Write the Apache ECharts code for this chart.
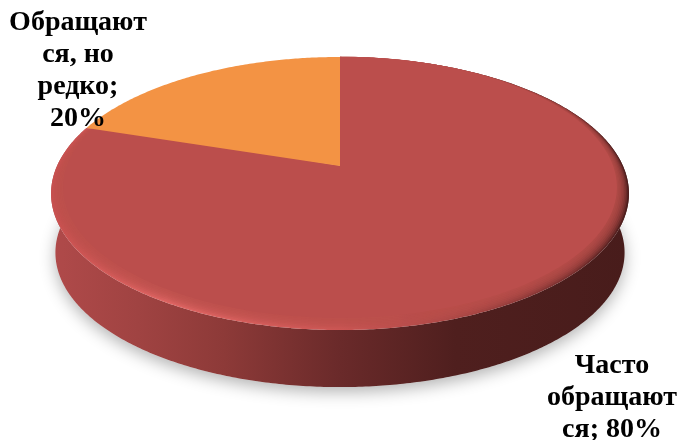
<!DOCTYPE html>
<html>
<head>
<meta charset="utf-8">
<title>Pie</title>
<style>
html, body { margin: 0; padding: 0; background: #fff; }
#chart { width: 679px; height: 440px; }
</style>
<script src="https://cdn.jsdelivr.net/npm/echarts@6/dist/echarts.min.js"></script>
</head>
<body>
<div id="chart"></div>
<script>
var categories = ['Часто\nобращают\nся', 'Обращают\nся, но\nредко'];
var separators = ['; ', ';\n'];
var values = [80, 20];

var total = values.reduce(function (a, b) { return a + b; }, 0);

// perspective of the disc, fitted on the picture
var CX = 340, CY = 166, A = 283, B = 131, K = 0.2015;
var DEPTH = 59.5, FLOOR = 0.985;
var INSET = 0.96, INSET_UP = 4, BEVEL_STEPS = 8;

var topColors = ['#bb4e4c', '#f39344'];
var labelPos = [[612, 398], [78, 71]];

// a = clockwise from 12 o'clock
function project(a, r, dy, s) {
    var u = Math.sin(a) * r, v = Math.cos(a) * r;
    var w = 1 + K * v;
    return [CX + s * A * u / w, CY + dy - s * B * v / w];
}
function arc(a0, a1, r, dy, s) {
    var pts = [], n = Math.ceil((a1 - a0) / 0.01);
    for (var i = 0; i <= n; i++) {
        pts.push(project(a0 + (a1 - a0) * i / n, r, dy, s));
    }
    return pts;
}
function hGradient(stops) {
    return new echarts.graphic.LinearGradient(51, 0, 629, 0, stops, true);
}

var sideFill = hGradient([
    { offset: 0, color: '#b04a4a' },
    { offset: 0.15, color: '#a04342' },
    { offset: 0.3, color: '#8d3a38' },
    { offset: 0.5, color: '#6a2a2a' },
    { offset: 0.7, color: '#4f1f1e' },
    { offset: 1, color: '#481c1b' }
]);
var bevelFill = hGradient([
    { offset: 0, color: '#c8504f' },
    { offset: 0.2, color: '#e06664' },
    { offset: 0.5, color: '#cc5654' },
    { offset: 0.72, color: '#a84644' },
    { offset: 0.9, color: '#7a3130' },
    { offset: 1, color: '#4d1e1d' }
]);

function renderSlice(params, api) {
    var i = params.dataIndex, before = 0;
    for (var j = 0; j < i; j++) before += values[j];
    var a0 = before / total * Math.PI * 2;
    var a1 = (before + api.value(0)) / total * Math.PI * 2;
    var centre = project(0, 0, 0, 1);
    var children = [];

    if (i === 0) {
        var floor = arc(a0, a1, 1, DEPTH, FLOOR);
        var rim = arc(a0, a1, 1, 0, 1);
        children.push({
            type: 'polygon',
            shape: { points: floor },
            style: { fill: '#e4e4e4', shadowBlur: 16, shadowColor: 'rgba(0,0,0,0.3)', shadowOffsetY: 5 }
        });
        children.push({
            type: 'polygon',
            shape: { points: rim.concat(floor.slice().reverse()) },
            style: { fill: sideFill }
        });
        children.push({
            type: 'polygon',
            shape: { points: [centre].concat(rim) },
            style: { fill: bevelFill }
        });
        // soft step from the bevel into the flat top
        for (var k = 1; k <= BEVEL_STEPS; k++) {
            var t = k / BEVEL_STEPS;
            children.push({
                type: 'polygon',
                shape: { points: [centre].concat(arc(a0, a1, 1 - (1 - INSET) * t, -INSET_UP * t, 1)) },
                style: { fill: topColors[i], opacity: k === BEVEL_STEPS ? 1 : 0.25 }
            });
        }
    } else {
        children.push({
            type: 'polygon',
            shape: { points: [centre].concat(arc(a0, a1, 1, 0, 1)) },
            style: { fill: topColors[i] }
        });
    }

    children.push({
        type: 'text',
        x: labelPos[i][0],
        y: labelPos[i][1],
        z2: 10,
        style: {
            text: categories[i] + separators[i] + Math.round(api.value(0) / total * 100) + '%',
            fontFamily: '"Liberation Serif"',
            fontWeight: 'bold',
            fontSize: 28,
            lineHeight: 32,
            fill: '#000',
            align: 'center',
            verticalAlign: 'middle'
        }
    });
    return { type: 'group', children: children };
}

var myChart = echarts.init(document.getElementById('chart'));
myChart.setOption({
    animation: false,
    series: [{
        type: 'custom',
        coordinateSystem: 'none',
        renderItem: renderSlice,
        data: values.map(function (v) { return [v]; })
    }]
});
</script>
</body>
</html>
